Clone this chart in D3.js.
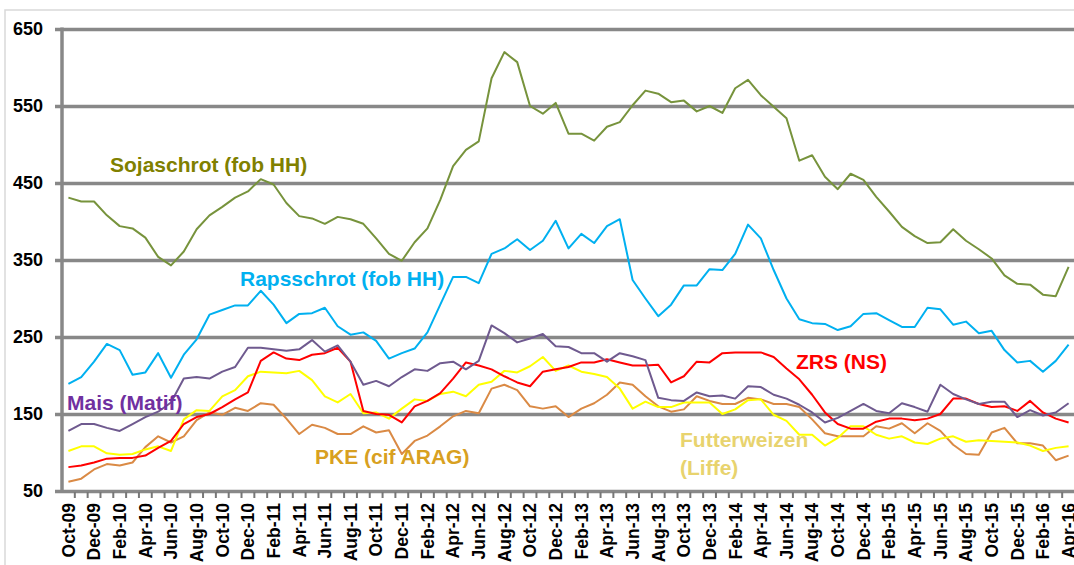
<!DOCTYPE html>
<html>
<head>
<meta charset="utf-8">
<script src="https://cdn.jsdelivr.net/npm/d3@7"></script>
<style>
  body { margin: 0; background: #fff; }
  svg { display: block; font-family: "Liberation Sans", Arial, sans-serif; }
</style>
</head>
<body>
<svg id="chart"></svg>
<script>
var width = 1074, height = 565;

// months Oct-09 .. Apr-16
var months = ["Oct-09","Nov-09","Dec-09","Jan-10","Feb-10","Mar-10","Apr-10","May-10","Jun-10","Jul-10","Aug-10","Sep-10",
  "Oct-10","Nov-10","Dec-10","Jan-11","Feb-11","Mar-11","Apr-11","May-11","Jun-11","Jul-11","Aug-11","Sep-11",
  "Oct-11","Nov-11","Dec-11","Jan-12","Feb-12","Mar-12","Apr-12","May-12","Jun-12","Jul-12","Aug-12","Sep-12",
  "Oct-12","Nov-12","Dec-12","Jan-13","Feb-13","Mar-13","Apr-13","May-13","Jun-13","Jul-13","Aug-13","Sep-13",
  "Oct-13","Nov-13","Dec-13","Jan-14","Feb-14","Mar-14","Apr-14","May-14","Jun-14","Jul-14","Aug-14","Sep-14",
  "Oct-14","Nov-14","Dec-14","Jan-15","Feb-15","Mar-15","Apr-15","May-15","Jun-15","Jul-15","Aug-15","Sep-15",
  "Oct-15","Nov-15","Dec-15","Jan-16","Feb-16","Mar-16","Apr-16"];

var yTicks = [50, 150, 250, 350, 450, 550, 650];

var soja = [431,426,426,408,394,391,379,354,343,361,390,408,419,431,439,455,448,424,407,404,397,406,403,397,
  378,358,349,373,391,428,472,493,504,586,620,607,550,540,554,514,514,505,523,529,551,570,566,555,
  557,543,550,541,573,584,564,549,534,479,486,458,442,462,454,432,413,393,381,372,373,390,375,364,
  352,330,319,318,305,303,341];

var raps = [189,198,218,241,233,201,204,229,197,227,247,279,285,291,291,310,292,268,280,281,288,264,253,256,
  245,222,229,235,256,292,328,328,320,358,365,377,363,375,401,365,384,372,394,403,324,300,277,292,
  317,317,338,337,358,396,378,337,300,273,268,267,259,264,280,281,272,263,263,288,286,266,270,255,
  258,233,217,219,205,219,240];

var mais = [128,137,137,132,128,137,146,153,165,196,198,196,205,211,236,236,234,232,234,246,231,239,218,188,
  193,186,198,208,206,216,218,208,219,265,255,243,248,254,238,237,229,229,218,229,225,220,171,168,
  167,178,173,174,170,186,185,175,170,162,152,139,145,154,163,154,151,164,159,153,188,176,169,163,
  166,166,146,155,148,152,164];

var zrs = [81,83,87,92,93,93,96,106,115,137,146,150,159,169,178,219,230,222,220,227,229,236,218,154,
  150,149,139,160,167,177,196,217,213,208,199,191,186,205,208,211,217,217,221,217,213,213,214,191,
  199,218,217,229,230,230,230,224,209,195,175,152,137,131,131,140,144,144,142,144,150,170,170,163,
  159,160,154,167,152,144,139];

var weizen = [102,108,108,99,97,98,104,108,102,143,155,154,173,181,199,205,204,203,206,194,173,165,176,151,
  152,144,157,169,167,176,179,173,188,192,206,204,212,224,206,213,205,202,198,183,157,166,159,159,
  165,165,165,150,156,168,169,149,141,123,123,109,119,134,134,123,118,121,113,111,118,121,114,116,
  115,114,113,109,102,106,108];

var pke = [62,66,78,85,83,87,107,121,113,121,142,152,149,158,154,164,162,144,124,136,132,124,124,134,
  126,129,98,115,122,134,147,154,151,183,188,181,160,157,160,146,157,164,175,191,188,173,160,153,
  156,173,167,163,163,171,169,163,163,159,143,125,121,121,121,134,131,138,125,138,128,110,98,97,
  126,132,112,112,109,90,96];

var seriesNames = ["PKE (cif ARAG)", "Futterweizen (Liffe)", "ZRS (NS)", "Mais (Matif)", "Rapsschrot (fob HH)", "Sojaschrot (fob HH)"];
var seriesValues = [pke, weizen, zrs, mais, raps, soja];
var lineColors = ["#DA8A45", "#FFFF00", "#FF0000", "#6F5A8F", "#00B0F0", "#77933C"];

var plotLeft = 62, plotRight = 1075, plotTop = 29, plotBottom = 491;

var svg = d3.select("#chart").attr("width", width).attr("height", height);

// outer chart frame
svg.append("path")
  .attr("d", "M5," + height + "V10H" + width)
  .attr("fill", "none")
  .attr("stroke", "#d9d9d9")
  .attr("stroke-width", 1.5);

var x = d3.scaleBand().domain(months).range([plotLeft, plotRight]);
var y = d3.scaleLinear().domain([50, 650]).range([plotBottom, plotTop]);
var xc = function (m) { return x(m) + x.bandwidth() / 2; };

// gridlines + y labels in one axis, anchored on the right edge
var yAxis = svg.append("g")
  .attr("transform", "translate(" + width + ",0)")
  .call(d3.axisLeft(y).tickValues(yTicks).tickSize(width - 55).tickPadding(12));
yAxis.select(".domain").remove();
yAxis.selectAll("line").attr("stroke", "#888").attr("stroke-width", 3.5);
yAxis.selectAll("text")
  .attr("fill", "#000")
  .style("font-size", "18px")
  .style("font-weight", "bold");

// y axis line
svg.append("line")
  .attr("x1", plotLeft).attr("x2", plotLeft)
  .attr("y1", y(650) - 1.5).attr("y2", plotBottom + 1.5)
  .attr("stroke", "#888").attr("stroke-width", 3.5);

// category tick marks at band edges
var edges = months.map(function (m) { return x(m); }).concat([x(months[months.length - 1]) + x.bandwidth()]);
svg.append("g").selectAll("line")
  .data(edges.slice(1))
  .join("line")
  .attr("x1", function (d) { return d; }).attr("x2", function (d) { return d; })
  .attr("y1", plotBottom + 1).attr("y2", plotBottom + 7)
  .attr("stroke", "#777").attr("stroke-width", 2);

// x labels every 2 months
var xAxis = svg.append("g")
  .attr("transform", "translate(0," + (plotBottom + 12) + ")")
  .call(d3.axisBottom(x).tickValues(months.filter(function (d, i) { return i % 2 === 0; })).tickSize(0).tickPadding(0));
xAxis.select(".domain").remove();
xAxis.selectAll("text")
  .attr("transform", "rotate(-90)")
  .attr("x", 0).attr("y", 0).attr("dy", "0.36em")
  .attr("text-anchor", "end")
  .attr("fill", "#000")
  .style("font-size", "17.5px")
  .style("font-weight", "bold");

// lines
var line = d3.line()
  .x(function (d, i) { return xc(months[i]); })
  .y(function (d) { return y(d); });

svg.append("g").selectAll("path")
  .data(seriesValues)
  .join("path")
  .attr("d", line)
  .attr("fill", "none")
  .attr("stroke", function (d, i) { return lineColors[i]; })
  .attr("stroke-width", 2)
  .attr("stroke-linejoin", "round");

// series labels
var labels = [
  {t: ["Sojaschrot (fob HH)"], x: 110, y: 172, c: "#808000"},
  {t: ["Rapsschrot (fob HH)"], x: 240, y: 286, c: "#00B0F0"},
  {t: ["Mais (Matif)"], x: 67, y: 410, c: "#7030A0"},
  {t: ["ZRS (NS)"], x: 796, y: 369, c: "#FF0000"},
  {t: ["PKE (cif ARAG)"], x: 315, y: 464, c: "#D8A021"},
  {t: ["Futterweizen", "(Liffe)"], x: 680, y: 447, c: "#E8D36E"}
];
labels.forEach(function (l) {
  var txt = svg.append("text")
    .attr("x", l.x).attr("y", l.y)
    .attr("fill", l.c)
    .style("font-size", "21px")
    .style("font-weight", "bold");
  l.t.forEach(function (s, i) {
    txt.append("tspan").attr("x", l.x).attr("dy", i === 0 ? 0 : 28).text(s);
  });
});
</script>
</body>
</html>
